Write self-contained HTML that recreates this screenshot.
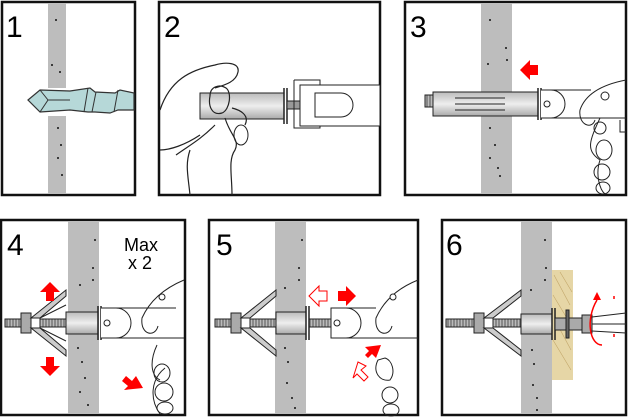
<!DOCTYPE html>
<html><head><meta charset="utf-8"><style>
html,body{margin:0;padding:0;background:#fff;width:628px;height:417px;overflow:hidden}
svg{display:block}
text{font-family:"Liberation Sans",sans-serif}
</style></head><body>
<svg width="628" height="417" viewBox="0 0 628 417" xmlns="http://www.w3.org/2000/svg">
<defs>
<pattern id="thr" width="3" height="8" patternUnits="userSpaceOnUse"><rect width="3" height="8" fill="#bbb"/><line x1="1" y1="0" x2="1" y2="8" stroke="#555" stroke-width="1"/></pattern>
<linearGradient id="sl" x1="0" y1="0" x2="0" y2="1"><stop offset="0" stop-color="#bbb"/><stop offset=".5" stop-color="#eee"/><stop offset="1" stop-color="#aaa"/></linearGradient>
</defs>
<g fill="none" stroke="#111" stroke-width="2.5">
<rect x="2" y="2" width="133" height="193"/>
<rect x="159" y="2" width="221" height="193"/>
<rect x="405" y="2" width="221" height="193"/>
<rect x="1" y="220" width="184" height="195"/>
<rect x="209" y="220" width="209" height="195"/>
<rect x="442" y="220" width="184" height="195"/>
</g>
<g fill="#bdbdbd">
<rect x="48" y="3" width="18" height="85"/><rect x="48" y="116" width="18" height="78"/>
<rect x="481" y="3" width="31" height="191"/>
<rect x="68" y="221" width="31" height="193"/>
<rect x="275" y="221" width="31" height="193"/>
<rect x="521" y="221" width="31" height="193"/>
</g>
<g fill="#111">
<circle cx="56" cy="20" r="1"/><circle cx="52" cy="65" r="1"/><circle cx="60" cy="72" r="1"/><circle cx="58" cy="128" r="1"/><circle cx="61" cy="145" r="1"/><circle cx="58" cy="158" r="1"/><circle cx="62" cy="175" r="1"/>
<circle cx="490" cy="20" r="1"/><circle cx="506" cy="48" r="1"/><circle cx="488" cy="64" r="1"/><circle cx="507" cy="60" r="1"/><circle cx="490" cy="128" r="1"/><circle cx="495" cy="145" r="1"/><circle cx="490" cy="158" r="1"/><circle cx="498" cy="168" r="1"/><circle cx="500" cy="176" r="1"/>
<circle cx="95" cy="240" r="1"/><circle cx="93" cy="268" r="1"/><circle cx="93" cy="280" r="1"/><circle cx="80" cy="285" r="1"/><circle cx="78" cy="348" r="1"/><circle cx="82" cy="362" r="1"/><circle cx="85" cy="378" r="1"/><circle cx="80" cy="392" r="1"/><circle cx="88" cy="405" r="1"/>
<circle cx="302" cy="240" r="1"/><circle cx="299" cy="268" r="1"/><circle cx="299" cy="280" r="1"/><circle cx="285" cy="288" r="1"/><circle cx="285" cy="348" r="1"/><circle cx="288" cy="362" r="1"/><circle cx="287" cy="383" r="1"/><circle cx="292" cy="398" r="1"/><circle cx="295" cy="408" r="1"/>
<circle cx="545" cy="240" r="1"/><circle cx="546" cy="268" r="1"/><circle cx="545" cy="280" r="1"/><circle cx="531" cy="290" r="1"/><circle cx="532" cy="350" r="1"/><circle cx="534" cy="364" r="1"/><circle cx="533" cy="385" r="1"/><circle cx="537" cy="398" r="1"/><circle cx="537" cy="410" r="1"/>
</g>
<g font-size="30" fill="#000">
<text x="6" y="37">1</text><text x="164" y="37">2</text><text x="410" y="37">3</text>
<text x="7" y="255">4</text><text x="216" y="255">5</text><text x="446" y="255">6</text>
</g>
<text x="124" y="251" font-size="18" fill="#000">Max</text>
<text x="128" y="269" font-size="18" fill="#000">x 2</text>
<path d="M28,100 L40,90 L70,91 L90,88 L95,92 L115,93 L120,90 L134,93 L134,110 L118,110 L110,113 L95,112 L88,112 L70,110 L40,112 Z" fill="#b6d8d8" stroke="#333" stroke-width="1.2"/>
<path d="M40,90 L48,100 L40,112 M48,100 L70,100 M88,88 L84,112 M96,92 L92,112 M118,90 L114,112" fill="none" stroke="#333" stroke-width="1"/>
<g stroke="#222" stroke-width="1" fill="none">
<rect x="200" y="93" width="84" height="26" fill="url(#sl)"/>
<path d="M284,88 v36 M287,88 v36" stroke-width="1.5"/>
<rect x="287" y="101" width="22" height="8" fill="#999"/>
<rect x="305" y="96" width="10" height="20" fill="#aaa"/>
<path d="M294,80 h26 v10 h10 M294,80 v48 h26 v-10" />
<rect x="300" y="85" width="80" height="41" fill="#fff"/>
<path d="M315,93 h26 a12,12 0 0 1 0,24 h-26 Z"/>
<path d="M160,110 C170,80 190,70 215,65 C225,62 240,62 238,72 C236,82 225,85 215,88 M210,96 C210,86 220,84 226,88 C232,92 230,110 222,113 C212,116 208,106 210,96 Z M232,108 C240,110 250,115 245,125 M225,118 C230,135 240,140 235,150 C228,160 232,175 232,195 M176,155 C190,145 200,140 215,125 M160,150 C170,150 185,145 200,135 M190,195 C188,175 185,165 190,150" stroke-width="1.2"/>
<ellipse cx="241" cy="135" rx="7" ry="10"/>
</g>
<g stroke="#222" stroke-width="1" fill="none">
<rect x="425" y="95" width="8" height="12" fill="url(#thr)"/>
<rect x="433" y="92" width="105" height="24" fill="url(#sl)"/>
<path d="M455,98 h50 M455,110 h50 M455,104 h50" />
<path d="M538,88 v32 M541,88 v32" stroke-width="1.5"/>
<path d="M541,90 h10 a14,14 0 0 1 0,28 h-10" fill="#fff"/>
<circle cx="547" cy="104" r="3"/>
<path d="M551,90 h40 M551,118 h75 M626,80 C600,85 585,95 580,110 C578,125 592,130 595,120 M600,118 C590,140 585,150 600,160 C595,175 600,190 605,194 M620,120 v12 h6"/>
<circle cx="605" cy="96" r="4"/>
<ellipse cx="600" cy="128" rx="6" ry="6"/><ellipse cx="604" cy="150" rx="8" ry="10"/><ellipse cx="602" cy="172" rx="8" ry="8"/><ellipse cx="603" cy="188" rx="7" ry="6"/>
</g>
<path d="M520,70 L530,60 v5 h8 v10 h-8 v5 Z" fill="#f00"/>
<g stroke="#222" stroke-width="1">
<rect x="5" y="319" width="16" height="8" fill="url(#thr)"/>
<rect x="21" y="313" width="10" height="20" fill="#aaa"/>
<path d="M31,318 L66,290 L66,296 L40,318 Z M31,328 L66,356 L66,350 L40,328 Z M40,318 L66,305 M40,328 L66,341" fill="#ccc"/>
<rect x="40" y="319" width="26" height="8" fill="url(#thr)"/>
<rect x="66" y="312" width="32" height="22" fill="url(#sl)"/>
<path d="M98,306 v34 M101,306 v34" stroke-width="1.5"/>
<path d="M101,308 h15 a15,15 0 0 1 0,30 h-15 M116,308 h60 M116,338 h68" fill="#fff"/>
<circle cx="107" cy="323" r="3" fill="#fff"/>
<path d="M184,280 C165,288 150,300 142,318 C140,335 155,338 158,326 M157,345 C150,360 150,375 160,380 M165,368 C150,380 150,400 160,414" fill="none"/>
<circle cx="162" cy="297" r="3" fill="#fff"/>
<g fill="none"><ellipse cx="162" cy="373" rx="8" ry="9"/><ellipse cx="164" cy="392" rx="9" ry="9"/><ellipse cx="165" cy="408" rx="8" ry="6"/></g>
<rect x="215" y="319" width="16" height="8" fill="url(#thr)"/>
<rect x="231" y="313" width="10" height="20" fill="#aaa"/>
<path d="M241,318 L276,290 L276,296 L250,318 Z M241,328 L276,356 L276,350 L250,328 Z" fill="#ccc"/>
<rect x="250" y="319" width="26" height="8" fill="url(#thr)"/>
<rect x="276" y="312" width="30" height="22" fill="url(#sl)"/>
<path d="M306,306 v34 M309,306 v34" stroke-width="1.5"/>
<rect x="309" y="319" width="22" height="8" fill="url(#thr)"/>
<path d="M331,308 h15 a15,15 0 0 1 0,30 h-15 Z M346,308 h30 M346,338 h72" fill="#fff"/>
<circle cx="337" cy="323" r="3" fill="#fff"/>
<path d="M418,280 C398,288 384,300 376,318 C374,335 389,338 392,326 M378,360 C372,372 380,382 390,380 C396,372 392,360 385,358 Z" fill="none"/>
<circle cx="393" cy="297" r="3" fill="#fff"/>
<g fill="none"><ellipse cx="390" cy="395" rx="8" ry="8"/><ellipse cx="391" cy="410" rx="8" ry="6"/></g>
<rect x="446" y="319" width="28" height="8" fill="url(#thr)"/>
<rect x="474" y="313" width="10" height="20" fill="#aaa"/>
<path d="M484,318 L521,290 L521,296 L493,318 Z M484,328 L521,356 L521,350 L493,328 Z" fill="#ccc"/>
<rect x="493" y="319" width="28" height="8" fill="url(#thr)"/>
<rect x="521" y="314" width="31" height="20" fill="url(#sl)"/>
</g>
<rect x="552" y="270" width="21" height="110" fill="#e6d6a6"/>
<g stroke="#c2a66a" stroke-width="0.6" fill="none"><path d="M554,275 l16,30 M553,295 l18,30 M555,320 l16,30 M553,340 l18,30 M560,272 l12,20"/></g>
<g stroke="#222" stroke-width="1">
<path d="M552,308 v32 M555,308 v32" stroke-width="1.5"/>
<rect x="555" y="318" width="28" height="12" fill="#aaa"/>
<rect x="566" y="310" width="3" height="28" fill="#666"/>
<rect x="582" y="315" width="10" height="18" fill="#aaa"/>
<path d="M592,317 L626,313 M592,331 L626,333 M592,324 L626,324" fill="none"/>
</g>
<path d="M597,300 C585,320 590,345 602,345" fill="none" stroke="#f00" stroke-width="1.5"/>
<path d="M593,300 l4,-8 l4,8 Z" fill="#f00"/>
<path d="M614,296 v6 M614,334 v6" stroke="#f00" stroke-width="1.5" stroke-dasharray="3,3"/>
<path d="M50,282 L40,292 h6 v9 h8 v-9 h6 Z" fill="#f00"/>
<path d="M50,376 L40,366 h6 v-9 h8 v9 h6 Z" fill="#f00"/>
<path d="M143,388 L136,376 L132,381 L126,376 L122,381 L128,386 L124,390 Z" fill="#f00"/>
<path d="M309,296 L319,286 v5 h8 v10 h-8 v5 Z" fill="#fff" stroke="#f00" stroke-width="1"/>
<path d="M356,296 L346,286 v5 h-8 v10 h8 v5 Z" fill="#f00"/>
<path d="M381,345 L376,358 L372,354 L368,358 L365,355 L369,351 L365,347 Z" fill="#f00"/>
<path d="M358,362 L353,378 L357,374 L364,381 L368,377 L361,370 L366,366 Z" fill="#fff" stroke="#f00" stroke-width="1"/>
</svg>
</body></html>
